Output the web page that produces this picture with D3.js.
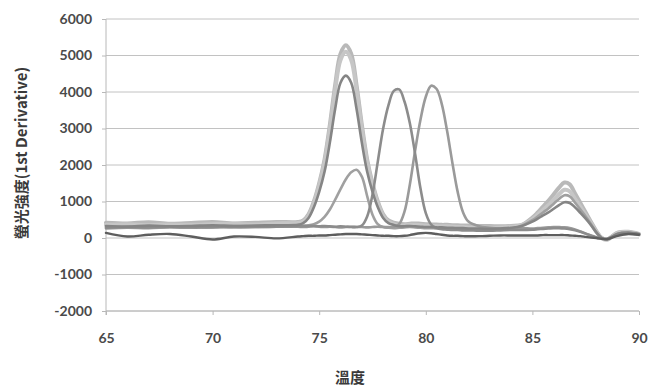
<!DOCTYPE html>
<html>
<head>
<meta charset="utf-8">
<script src="https://cdn.jsdelivr.net/npm/d3@7"></script>
<style>
  html, body { margin: 0; padding: 0; background: #fff; }
  svg { display: block; }
</style>
</head>
<body>
<svg id="chart" width="649" height="386"></svg>
<script>
// Melt-curve derivative data: temperature (°C) vs. fluorescence -dF/dT
const temps = [
  65, 66, 67, 68, 69, 70, 71, 72, 73,
  74, 74.25, 74.5, 74.75, 75, 75.25, 75.5, 75.75, 76, 76.25, 76.5, 76.75, 77, 77.25, 77.5, 77.75,
  78, 78.25, 78.5, 78.75, 79, 79.25, 79.5, 79.75, 80, 80.25, 80.5, 80.75, 81, 81.25, 81.5, 81.75, 82,
  82.5, 83, 83.5, 84, 84.5,
  85, 85.25, 85.5, 85.75, 86, 86.25, 86.5, 86.75, 87, 87.25, 87.5, 87.75, 88, 88.25, 88.5,
  89, 89.5, 90
];

const peakA1 = [
  420, 400, 430, 390, 410, 440, 400, 420, 440,
  440, 480, 650, 1000, 1500, 2150, 3100, 4200, 5050, 5280, 5050, 4200, 3100, 2150, 1500, 1000,
  650, 480, 420, 390, 380, 390, 400, 390, 380, 370, 370, 360, 360, 350, 350, 340, 340,
  330, 330, 320, 330, 360,
  560, 700, 860, 1020, 1200, 1380, 1520, 1470, 1220, 960, 700, 440, 190, 0, -40,
  150, 170, 110
];
const peakA2 = [
  360, 380, 350, 370, 360, 380, 390, 370, 400,
  410, 450, 610, 950, 1440, 2070, 2990, 4060, 4875, 5100, 4875, 4060, 2990, 2070, 1440, 950,
  610, 440, 380, 340, 350, 360, 360, 350, 340, 330, 330, 320, 320, 310, 300, 300, 290,
  290, 280, 290, 310, 350,
  520, 640, 770, 900, 1050, 1200, 1320, 1280, 1070, 850, 630, 400, 170, 0, -40,
  140, 160, 100
];
const peakA3 = [
  330, 310, 340, 320, 330, 350, 330, 340, 350,
  360, 407, 550, 845, 1266, 1813, 2613, 3540, 4255, 4450, 4255, 3540, 2613, 1813, 1266, 845,
  550, 407, 357, 320, 320, 330, 320, 310, 300, 300, 290, 290, 280, 280, 270, 270, 260,
  260, 250, 260, 280, 330,
  450, 530, 620, 700, 800, 900, 980, 960, 840, 690, 530, 350, 150, 0, -40,
  120, 150, 110
];
const peakB = [
  300, 320, 300, 310, 320, 300, 330, 320, 330,
  340, 340, 350, 380, 450, 580, 780, 1050, 1340, 1610, 1800, 1870, 1680, 1150, 640, 380,
  300, 280, 270, 280, 290, 300, 290, 280, 270, 270, 260, 260, 250, 250, 250, 240, 240,
  240, 230, 240, 260, 340,
  490, 590, 700, 810, 940, 1070, 1170, 1140, 970, 780, 590, 380, 160, 0, -40,
  110, 140, 100
];
const peakC = [
  280, 300, 290, 310, 300, 290, 310, 300, 310,
  320, 320, 330, 330, 320, 330, 320, 310, 320, 310, 300, 300, 340, 590, 1190, 2100,
  3000, 3640, 4030, 4070, 3740, 3150, 2300, 1360, 680, 370, 280, 240, 230, 220, 220, 210, 210,
  200, 200, 210, 220, 220,
  230, 240, 250, 260, 270, 270, 260, 240, 210, 170, 120, 70, 20, -10, -20,
  90, 130, 100
];
const peakD = [
  260, 280, 270, 290, 280, 300, 290, 300, 310,
  310, 300, 310, 320, 310, 300, 310, 300, 290, 300, 310, 300, 300, 290, 300, 310,
  300, 300, 310, 380, 720, 1460, 2400, 3240, 3870, 4170, 4090, 3670, 2930, 2050, 1250, 700, 450,
  320, 280, 260, 260, 270,
  260, 270, 280, 290, 300, 300, 290, 270, 230, 180, 120, 60, 10, -20, -30,
  80, 120, 90
];
const noTemplate = [
  140, 40, 90, 110, 40, -40, 40, 30, -10,
  40, 50, 60, 60, 70, 70, 80, 90, 100, 110, 110, 110, 100, 90, 80, 70,
  60, 60, 50, 50, 60, 80, 110, 130, 140, 130, 110, 90, 70, 60, 60, 50, 50,
  50, 60, 70, 70, 70,
  70, 70, 80, 80, 80, 80, 80, 70, 60, 50, 30, 10, 0, -20, -30,
  60, 110, 90
];

const yTicks = [-2000, -1000, 0, 1000, 2000, 3000, 4000, 5000, 6000];
const xTicks = [65, 70, 75, 80, 85, 90];

const seriesList = [
  { name: "A1", values: peakA1, color: "#b9b9b9", width: 4 },
  { name: "A2", values: peakA2, color: "#c6c6c6", width: 4 },
  { name: "B",  values: peakB,  color: "#a0a0a0", width: 2.6 },
  { name: "D",  values: peakD,  color: "#9a9a9a", width: 2.6 },
  { name: "C",  values: peakC,  color: "#8c8c8c", width: 2.6 },
  { name: "A3", values: peakA3, color: "#858585", width: 2.6 },
  { name: "NTC", values: noTemplate, color: "#5e5e5e", width: 2.4 }
];

const svg = d3.select("#chart");
const x = d3.scaleLinear().domain([65, 90]).range([106, 639]);
const y = d3.scaleLinear().domain([-2000, 6000]).range([311, 19]);

// horizontal gridlines
svg.append("g")
  .selectAll("line")
  .data(yTicks)
  .join("line")
  .attr("x1", x(65)).attr("x2", x(90))
  .attr("y1", d => y(d)).attr("y2", d => y(d))
  .attr("stroke", "#c2c2c2").attr("stroke-width", 1);

// y axis
const yAxis = svg.append("g")
  .attr("transform", `translate(${x(65)},0)`)
  .call(d3.axisLeft(y).tickValues(yTicks).tickSize(4).tickPadding(10).tickFormat(d3.format("d")));
yAxis.select(".domain").attr("stroke", "#b8b8b8").attr("d", `M0,${y(6000)}V${y(-2000) + 4}`);
yAxis.selectAll(".tick line").attr("stroke", "#b8b8b8");
yAxis.selectAll(".tick text")
  .attr("font-family", "Lato, 'Open Sans', sans-serif")
  .attr("font-size", 14).attr("font-weight", "bold").attr("fill", "#4a4a4a")
  .text(d => d < 0 ? "-" + Math.abs(d) : d);

// x axis
const xAxis = svg.append("g")
  .attr("transform", `translate(0,${y(-2000)})`)
  .call(d3.axisBottom(x).tickValues(xTicks).tickSize(4).tickPadding(18).tickFormat(d3.format("d")));
xAxis.select(".domain").attr("stroke", "#b8b8b8").attr("d", `M${x(65)},0H${x(90)}`);
xAxis.selectAll(".tick line").attr("stroke", "#b8b8b8");
xAxis.selectAll(".tick text")
  .attr("font-family", "Lato, 'Open Sans', sans-serif")
  .attr("font-size", 14).attr("font-weight", "bold").attr("fill", "#4a4a4a");

// curves
const line = d3.line()
  .x((d, i) => x(temps[i]))
  .y(d => y(d))
  .curve(d3.curveCatmullRom.alpha(0.5));

svg.append("g")
  .selectAll("path")
  .data(seriesList)
  .join("path")
  .attr("fill", "none")
  .attr("stroke", d => d.color)
  .attr("stroke-width", d => d.width)
  .attr("stroke-linejoin", "round")
  .attr("stroke-linecap", "round")
  .attr("d", d => line(d.values));

// axis titles
svg.append("text")
  .attr("x", 350).attr("y", 383)
  .attr("text-anchor", "middle")
  .attr("font-family", "'Noto Sans CJK TC', 'Noto Sans CJK SC', sans-serif")
  .attr("font-size", 15).attr("font-weight", "bold").attr("fill", "#3a3a3a")
  .text("溫度");

svg.append("text")
  .attr("transform", "translate(27,153) rotate(-90)")
  .attr("text-anchor", "middle")
  .attr("font-family", "'Noto Sans CJK TC', 'Noto Sans CJK SC', sans-serif")
  .attr("font-size", 15).attr("font-weight", "bold").attr("fill", "#3a3a3a")
  .text("螢光強度(1st Derivative)");
</script>
</body>
</html>
